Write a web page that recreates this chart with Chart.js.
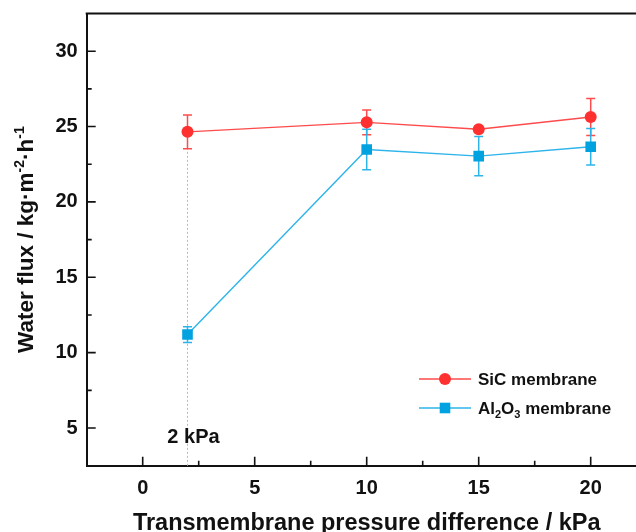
<!DOCTYPE html>
<html>
<head>
<meta charset="utf-8">
<script src="https://cdn.jsdelivr.net/npm/chart.js@4.4.1/dist/chart.umd.min.js"></script>
<style>
  html, body { margin: 0; padding: 0; background: #fff; overflow: hidden; width: 636px; height: 532px; }
  #wrap { width: 660px; height: 532px; }
</style>
</head>
<body>
<div id="wrap"><canvas id="c" width="660" height="532"></canvas></div>
<script>
// Transmembrane pressure difference (kPa)
const pressure = [2, 10, 15, 20];

// Water flux (kg·m-2·h-1) and standard deviation
const sicFlux = [24.65, 25.28, 24.82, 25.63];
const sicErr = [1.12, 0.82, 0.15, 1.23];
const al2o3Flux = [11.2, 23.48, 23.04, 23.66];
const al2o3Err = [0.52, 1.34, 1.3, 1.21];

// Axis ticks
const xTicks = [0, 5, 10, 15, 20];
const xMinorTicks = [2.5, 7.5, 12.5, 17.5];
const yTicks = [5, 10, 15, 20, 25, 30];
const yMinorTicks = [7.5, 12.5, 17.5, 22.5, 27.5];

// Text, as runs of [text, kind] where kind is n / sup / sub
const seriesNames = [
  [['SiC membrane', 'n']],
  [['Al', 'n'], ['2', 'sub'], ['O', 'n'], ['3', 'sub'], [' membrane', 'n']]
];
const xTitle = [['Transmembrane pressure difference / kPa', 'n']];
const yTitle = [['Water flux / kg\u00B7m', 'n'], ['-2', 'sup'], ['\u00B7h', 'n'], ['-1', 'sup']];
const refPressure = 2;
const refLabel = '2 kPa';

const FONT = '"Liberation Sans", Arial, Helvetica, sans-serif';
const INK = '#111111';

function runFont(size, kind) {
  const s = kind === 'n' ? size : Math.round(size * 0.62);
  return 'bold ' + s + 'px ' + FONT;
}
function runsWidth(ctx, runs, size) {
  let w = 0;
  for (const [t, k] of runs) { ctx.font = runFont(size, k); w += ctx.measureText(t).width; }
  return w;
}
// draws a line of mixed text starting at x (left) on baseline y
function drawRuns(ctx, runs, x, y, size) {
  ctx.textAlign = 'left';
  ctx.textBaseline = 'alphabetic';
  for (const [t, k] of runs) {
    ctx.font = runFont(size, k);
    const dy = k === 'sup' ? -0.4 * size : (k === 'sub' ? 0.22 * size : 0);
    ctx.fillText(t, x, y + dy);
    x += ctx.measureText(t).width;
  }
}

const errorBars = {
  id: 'errorBars',
  beforeDatasetsDraw(chart) {
    const { ctx, scales: { x, y } } = chart;
    ctx.save();
    // dotted guide at the reference pressure
    const i = pressure.indexOf(refPressure);
    const gx = x.getPixelForValue(refPressure);
    ctx.strokeStyle = '#b8b8b8';
    ctx.lineWidth = 1;
    ctx.setLineDash([2, 2]);
    ctx.beginPath();
    ctx.moveTo(gx, y.getPixelForValue(sicFlux[i]));
    ctx.lineTo(gx, y.getPixelForValue(y.min));
    ctx.stroke();
    ctx.setLineDash([]);

    chart.data.datasets.forEach(ds => {
      ctx.strokeStyle = ds.errColor;
      ctx.lineWidth = 1.5;
      ds.data.forEach((v, j) => {
        const px = x.getPixelForValue(pressure[j]);
        const top = y.getPixelForValue(v + ds.err[j]);
        const bot = y.getPixelForValue(v - ds.err[j]);
        ctx.beginPath();
        ctx.moveTo(px, top); ctx.lineTo(px, bot);
        ctx.moveTo(px - 4.5, top); ctx.lineTo(px + 4.5, top);
        ctx.moveTo(px - 4.5, bot); ctx.lineTo(px + 4.5, bot);
        ctx.stroke();
      });
    });
    ctx.restore();
  }
};

const frameAndText = {
  id: 'frameAndText',
  afterDraw(chart) {
    const { ctx, chartArea: a, scales: { x, y } } = chart;
    ctx.save();
    ctx.strokeStyle = INK;
    // top frame line
    ctx.lineWidth = 2;
    ctx.beginPath();
    ctx.moveTo(a.left - 1, a.top); ctx.lineTo(a.right, a.top);
    ctx.stroke();
    // inward ticks
    ctx.lineWidth = 1.6;
    ctx.beginPath();
    xTicks.forEach(v => { const p = x.getPixelForValue(v); ctx.moveTo(p, a.bottom); ctx.lineTo(p, a.bottom - 9); });
    xMinorTicks.forEach(v => { const p = x.getPixelForValue(v); ctx.moveTo(p, a.bottom); ctx.lineTo(p, a.bottom - 5); });
    yTicks.forEach(v => { const p = y.getPixelForValue(v); ctx.moveTo(a.left, p); ctx.lineTo(a.left + 9, p); });
    yMinorTicks.forEach(v => { const p = y.getPixelForValue(v); ctx.moveTo(a.left, p); ctx.lineTo(a.left + 5, p); });
    ctx.stroke();

    ctx.fillStyle = INK;
    // x title
    const xs = 23.5;
    const xw = runsWidth(ctx, xTitle, xs);
    drawRuns(ctx, xTitle, (a.left + a.right) / 2 - xw / 2, 529.5, xs);
    // y title
    const ys = 22.5;
    const yw = runsWidth(ctx, yTitle, ys);
    ctx.save();
    ctx.translate(33, (a.top + a.bottom) / 2);
    ctx.rotate(-Math.PI / 2);
    drawRuns(ctx, yTitle, -yw / 2, 0, ys);
    ctx.restore();

    // reference label
    ctx.font = 'bold 20px ' + FONT;
    ctx.textAlign = 'center';
    ctx.textBaseline = 'middle';
    ctx.fillText(refLabel, x.getPixelForValue(refPressure) + 6, y.getPixelForValue(4.4));

    // legend
    const lx = 419, rows = [379, 408];
    chart.data.datasets.forEach((ds, k) => {
      const ry = rows[k];
      ctx.strokeStyle = ds.borderColor;
      ctx.lineWidth = 1.5;
      ctx.beginPath(); ctx.moveTo(lx, ry); ctx.lineTo(lx + 52, ry); ctx.stroke();
      ctx.fillStyle = ds.pointBackgroundColor;
      Chart.helpers.drawPoint(ctx, { pointStyle: ds.pointStyle, radius: ds.pointRadius, borderWidth: 0 }, lx + 26, ry);
      ctx.fillStyle = INK;
      drawRuns(ctx, seriesNames[k], 478, ry + 6, 17);
    });
    ctx.restore();
  }
};

new Chart(document.getElementById('c'), {
  type: 'line',
  data: {
    labels: pressure,
    datasets: [
      {
        label: 'SiC membrane',
        data: sicFlux,
        err: sicErr,
        borderColor: '#ff4b4b',
        errColor: '#ff4b4b',
        borderWidth: 1.4,
        pointStyle: 'circle',
        pointRadius: 6,
        pointBackgroundColor: '#ff3030',
        pointBorderColor: '#ff3030',
        pointBorderWidth: 0,
        tension: 0
      },
      {
        label: 'Al2O3 membrane',
        data: al2o3Flux,
        err: al2o3Err,
        borderColor: '#2db4ea',
        errColor: '#2db4ea',
        borderWidth: 1.4,
        pointStyle: 'rect',
        pointRadius: 7.5,
        pointBackgroundColor: '#00a2e0',
        pointBorderColor: '#00a2e0',
        pointBorderWidth: 0,
        tension: 0
      }
    ]
  },
  options: {
    responsive: false,
    animation: false,
    layout: { padding: { left: 0, top: 13.5, right: 13.3, bottom: 0 } },
    plugins: { legend: { display: false }, tooltip: { enabled: false }, title: { display: false } },
    scales: {
      x: {
        type: 'linear',
        min: -2.5,
        max: 22.5,
        afterBuildTicks: s => { s.ticks = xTicks.map(v => ({ value: v })); },
        afterFit: s => { s.height = 66.3; s.paddingLeft = 0; s.paddingRight = 0; },
        grid: { display: false, drawTicks: false },
        border: { display: true, color: INK, width: 2 },
        ticks: { color: INK, font: { family: FONT, size: 20, weight: 'bold' }, padding: 11, maxRotation: 0 }
      },
      y: {
        type: 'linear',
        min: 2.5,
        max: 32.5,
        afterBuildTicks: s => { s.ticks = yTicks.map(v => ({ value: v })); },
        afterFit: s => { s.width = 86.7; s.paddingTop = 0; s.paddingBottom = 0; },
        grid: { display: false, drawTicks: false },
        border: { display: true, color: INK, width: 2 },
        ticks: { color: INK, font: { family: FONT, size: 20, weight: 'bold' }, padding: 9 }
      }
    }
  },
  plugins: [errorBars, frameAndText]
});
</script>
</body>
</html>
